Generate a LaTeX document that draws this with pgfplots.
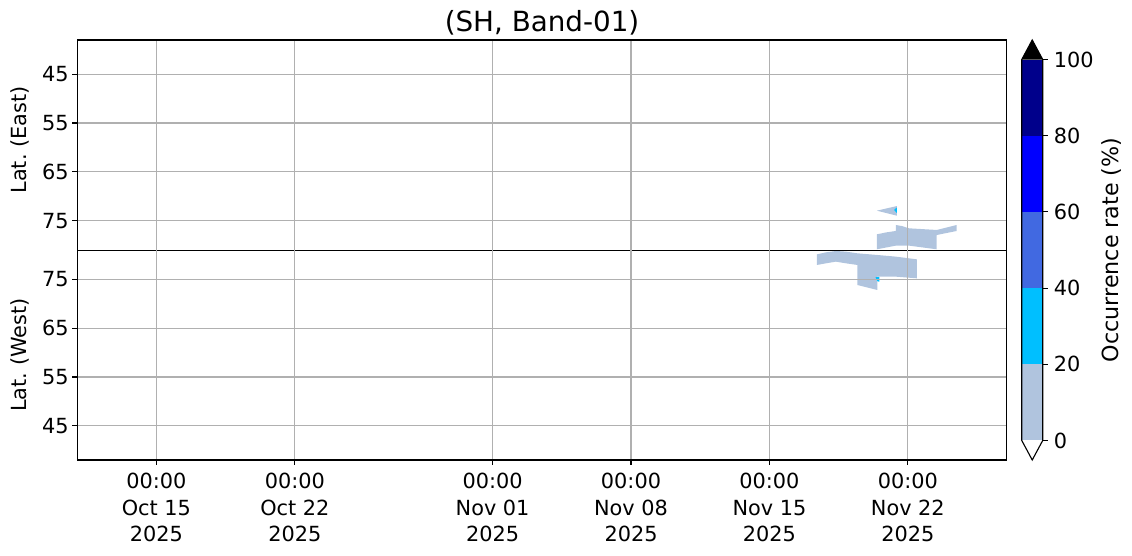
\documentclass[border=0pt]{standalone}
\usepackage{fontspec}
\setmainfont{DejaVu Sans}
\usepackage{pgfplots}
\pgfplotsset{compat=1.18}
\frenchspacing
\definecolor{gridgray}{RGB}{176,176,176}
\definecolor{csteel}{RGB}{176,196,222}
\definecolor{cdeep}{RGB}{0,191,255}
\definecolor{croyal}{RGB}{65,105,225}
\definecolor{cblue}{RGB}{0,0,255}
\definecolor{cdark}{RGB}{0,0,139}
\begin{document}
\begin{tikzpicture}
\useasboundingbox (-55.66pt,-69.12pt) rectangle (759.38pt,331.2pt);
\begin{axis}[
  at={(0pt,0pt)}, anchor=south west, scale only axis,
  width=669.2pt, height=302.4pt,
  xmin=-4, xmax=43, ymin=-43, ymax=43,
  axis on top, clip mode=individual,
  axis line style={line width=0.8pt},
  every tick/.style={black, line width=0.8pt},
  major tick length=3.5pt, tick align=outside,
  xtick pos=bottom, ytick pos=left,
  grid=major, grid style={gridgray, line width=0.8pt},
  xtick={0,7,17,24,31,38},
  xticklabels={{00:00\\Oct 15\\2025},{00:00\\Oct 22\\2025},{00:00\\Nov 01\\2025},{00:00\\Nov 08\\2025},{00:00\\Nov 15\\2025},{00:00\\Nov 22\\2025}},
  x tick label style={align=center, anchor=north, inner sep=0pt, yshift=-5.8pt, font=\fontsize{15}{19.2}\selectfont},
  ytick={-36,-26,-16,-6,6,16,26,36},
  yticklabels={45,55,65,75,75,65,55,45},
  y tick label style={anchor=east, inner sep=0pt, xshift=-2.5pt, font=\fontsize{15}{18}\selectfont},
  /pgf/number format/assume math mode=true,
]
% East part (v = 81 - lat), West part (v = lat - 81)
\addplot[fill=csteel, draw=none] coordinates {(36.43,8.05) (37.44,9.0) (37.44,7.03)} --cycle;
\addplot[fill=cdeep, draw=none] coordinates {(37.30,8.2) (37.44,8.7) (37.44,7.6)} --cycle;
\addplot[fill=csteel, draw=none] coordinates {
 (36.43,3.21) (36.9,3.6) (37.39,3.9) (37.39,5.12) (37.7,4.9) (38.06,4.44) (39.46,4.1)
 (40.47,5.12) (40.47,3.89) (39.46,3.07) (39.46,0.14) (38.06,0.89) (37.39,0.89) (36.43,0.14)} --cycle;
\addplot[fill=csteel, draw=none] coordinates {
 (33.40,-0.89) (33.86,-0.48) (34.36,-0.2) (34.87,-0.34) (35.45,-0.68) (36.46,-1.02)
 (37.39,-1.36) (38.45,-1.91) (38.45,-5.8) (37.39,-5.46) (36.46,-5.46) (36.46,-8.19)
 (35.45,-7.17) (35.45,-3.07) (34.87,-2.73) (34.36,-2.39) (33.86,-2.73) (33.40,-3.07)} --cycle;
\addplot[fill=cdeep, draw=none] coordinates {(36.36,-5.6) (36.56,-5.5) (36.56,-6.5) (36.46,-6.4)} --cycle;
\addplot[black, line width=0.7pt] coordinates {(-4,0) (43,0)};
\node[rotate=90, font=\fontsize{15}{18}\selectfont] at ([xshift=-41.3pt]axis description cs:0,0.762) {Lat. (East)};
\node[rotate=90, font=\fontsize{15}{18}\selectfont] at ([xshift=-41.3pt]axis description cs:0,0.25) {Lat. (West)};
\node[anchor=base, font=\fontsize{20}{24}\selectfont] at ([yshift=6pt]axis description cs:0.5,1) {(SH, Band-01)};
\end{axis}
\begin{axis}[
  at={(680pt,0pt)}, anchor=south west, scale only axis,
  width=15.1pt, height=302.4pt,
  xmin=0, xmax=1, ymin=-5.13, ymax=105.13,
  axis line style={draw=none}, clip=false,
  xtick=\empty, ytick={0,20,...,100},
  ytick pos=right, yticklabel pos=right,
  every tick/.style={black, line width=0.8pt},
  major tick length=3.5pt, tick align=outside,
  y tick label style={anchor=west, inner sep=0pt, xshift=4.3pt, font=\fontsize{15}{18}\selectfont},
  /pgf/number format/assume math mode=true,
]
\addplot[fill=csteel, draw=none] coordinates {(0,0) (1,0) (1,20) (0,20)} --cycle;
\addplot[fill=cdeep, draw=none] coordinates {(0,20) (1,20) (1,40) (0,40)} --cycle;
\addplot[fill=croyal, draw=none] coordinates {(0,40) (1,40) (1,60) (0,60)} --cycle;
\addplot[fill=cblue, draw=none] coordinates {(0,60) (1,60) (1,80) (0,80)} --cycle;
\addplot[fill=cdark, draw=none] coordinates {(0,80) (1,80) (1,100) (0,100)} --cycle;
\addplot[fill=black, draw=none] coordinates {(0,100) (1,100) (0.5,105.13)} --cycle;
\addplot[black, line width=0.8pt] coordinates {(0,0) (0,100) (0.5,105.13) (1,100) (1,0) (0.5,-5.13)} --cycle;
\node[rotate=90, font=\fontsize{16}{19}\selectfont] at ([xshift=64.3pt]axis description cs:0,0.5) {Occurrence rate (\%)};
\end{axis}
\end{tikzpicture}
\end{document}
